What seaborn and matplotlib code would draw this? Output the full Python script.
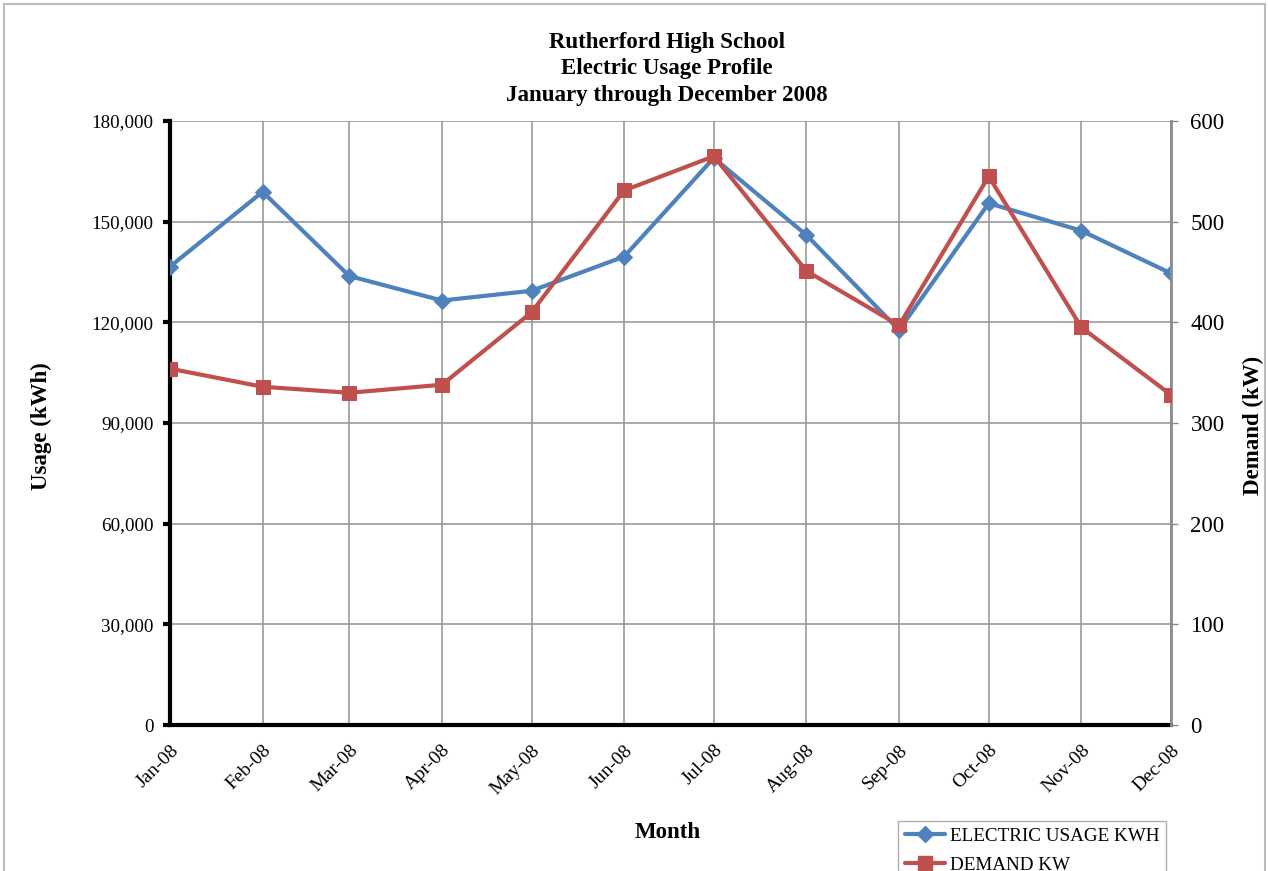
import pandas as pd
import numpy as np
import matplotlib
matplotlib.use("Agg")
import matplotlib.pyplot as plt
import matplotlib.dates as mdates
from matplotlib.ticker import FuncFormatter, MultipleLocator
from matplotlib.lines import Line2D
from matplotlib.patches import Rectangle
import seaborn as sns

# --- Daten ---
monate = ["2008-01-01", "2008-02-01", "2008-03-01", "2008-04-01", "2008-05-01", "2008-06-01",
          "2008-07-01", "2008-08-01", "2008-09-01", "2008-10-01", "2008-11-01", "2008-12-01"]
usage_kwh = [136600, 158900, 133800, 126500, 129400, 139600,
             169000, 146000, 117700, 155500, 147300, 134600]
demand_kw = [354, 336, 330, 338, 410, 531, 565, 451, 397, 545, 395, 328]

df = pd.DataFrame({
    "Monat": pd.to_datetime(monate),
    "Usage": usage_kwh,
    "Demand": demand_kw,
})

blau = "#4F81BD"
rot = "#C0504D"
grau = "#8C8C8C"

sns.set_style("white")
plt.rcParams["font.family"] = ["Liberation Serif", "DejaVu Serif"]
plt.rcParams["text.color"] = "black"
plt.rcParams["axes.labelcolor"] = "black"
plt.rcParams["xtick.color"] = "black"
plt.rcParams["ytick.color"] = "black"

fig = plt.figure(figsize=(12.68, 8.71), dpi=100)
ax = fig.add_axes([170 / 1268, 1 - 725 / 871, (1171 - 170) / 1268, (725 - 121) / 871])
ax2 = ax.twinx()

# --- Linien ---
sns.lineplot(data=df, x="Monat", y="Usage", ax=ax, color=blau, linewidth=3,
             marker="D", markersize=8, markeredgecolor=blau, zorder=3)
sns.lineplot(data=df, x="Monat", y="Demand", ax=ax2, color=rot, linewidth=3,
             marker="s", markersize=10, markeredgecolor=rot, zorder=3)

# --- Achsen ---
ax.set_xlim(df["Monat"].iloc[0], df["Monat"].iloc[-1])
ax.set_ylim(0, 180000)
ax2.set_ylim(0, 600)
ax.yaxis.set_major_locator(MultipleLocator(30000))
ax2.yaxis.set_major_locator(MultipleLocator(100))
ax.yaxis.set_major_formatter(FuncFormatter(lambda v, p: f"{int(v):,}"))

ax.set_xticks(df["Monat"])
ax.xaxis.set_major_formatter(mdates.DateFormatter("%b-%y"))
for lbl in ax.get_xticklabels():
    lbl.set_rotation(45)
    lbl.set_ha("right")
    lbl.set_rotation_mode("anchor")

ax.grid(True, color="#999999", linewidth=1.2)
ax.set_axisbelow(True)
ax2.grid(False)

for s in ["left", "bottom"]:
    ax.spines[s].set_color("black")
    ax.spines[s].set_linewidth(3)
ax.spines["top"].set_visible(False)
ax.spines["right"].set_visible(False)
for s in ["left", "bottom", "top"]:
    ax2.spines[s].set_visible(False)
ax2.spines["right"].set_color(grau)
ax2.spines["right"].set_linewidth(2)

ax.tick_params(axis="y", labelsize=13.7, length=5, width=3, color="black",
               labelcolor="black", direction="out", pad=7)
ax.tick_params(axis="x", labelsize=14, length=5, width=3, color="black",
               labelcolor="black", direction="out", pad=7)
ax2.tick_params(axis="y", labelsize=16.5, length=5, width=1, color=grau,
                labelcolor="black", direction="out", pad=9)

ax.set_xlabel("Month", fontsize=16.5, fontweight="bold")
ax.set_ylabel("Usage (kWh)", fontsize=16.5, fontweight="bold")
ax2.set_ylabel("Demand (kW)", fontsize=16.5, fontweight="bold")
ax.xaxis.set_label_coords((668 - 170) / 1001, (725 - 822) / 604)
ax.yaxis.set_label_coords((52 - 170) / 1001, (725 - 426) / 604)
ax2.yaxis.set_label_coords((1243 - 170) / 1001, (725 - 425) / 604)

# --- Titel ---
fig.text(667 / 1268, 1 - 32 / 871,
         "Rutherford High School\nElectric Usage Profile\nJanuary through December 2008",
         ha="center", va="top", fontsize=16.5, fontweight="bold", linespacing=1.34)

# --- Legende ---
handles = [
    Line2D([], [], color=blau, linewidth=3, marker="D", markersize=8),
    Line2D([], [], color=rot, linewidth=3, marker="s", markersize=10),
]
fig.legend(handles, ["ELECTRIC USAGE KWH", "DEMAND KW"],
           loc="upper left", bbox_to_anchor=(898 / 1268, 1 - 821 / 871),
           borderaxespad=0, fontsize=13.8, frameon=True, fancybox=False,
           edgecolor="#999999", handlelength=2.1, handletextpad=0.25,
           borderpad=0.35, labelspacing=0.6)

# --- Rahmen ---
fig.patches.append(Rectangle((4 / 1268, -0.05), (1265 - 4) / 1268, 1.05 - 4 / 871,
                             transform=fig.transFigure, fill=False,
                             edgecolor="#BBBBBB", linewidth=1.5, clip_on=False))

fig.savefig("out.png", dpi=100)
